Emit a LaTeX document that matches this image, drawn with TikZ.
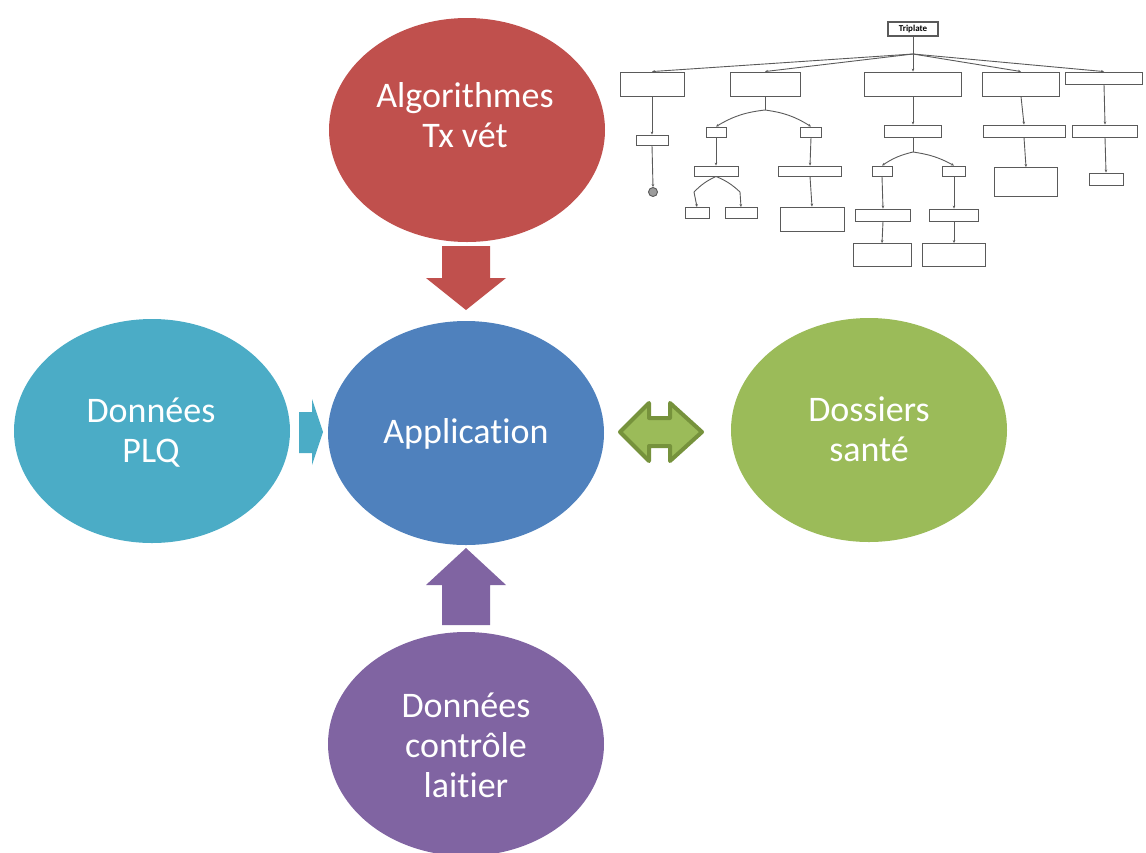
\documentclass[tikz,border=0pt]{standalone}
\usepackage{fontspec}
\setmainfont{Carlito}[Ligatures=NoCommon]
\usetikzlibrary{shapes.geometric,arrows.meta}
\definecolor{cred}{HTML}{C0504D}
\definecolor{cblue}{HTML}{4F81BD}
\definecolor{ccyan}{HTML}{4BACC6}
\definecolor{cgreen}{HTML}{9BBB59}
\definecolor{cgreendark}{HTML}{76923C}
\definecolor{cpurple}{HTML}{8064A2}
\definecolor{treeline}{HTML}{5A5A5A}
\begin{document}
\begin{tikzpicture}[x=1pt,y=-1pt,
  bub/.style={ellipse, inner sep=0pt, draw=none, minimum width=276pt, minimum height=224pt},
  lbl/.style={anchor=base, text=white, inner sep=0pt, font=\fontsize{36}{40}\selectfont},
  tbox/.style={draw=treeline, line width=0.9pt, fill=white, inner sep=0pt, rectangle},
  tl/.style={draw=treeline, line width=0.9pt},
  ta/.style={tl, -{Stealth[length=3pt,width=2.6pt]}},
]
\useasboundingbox (0,0) rectangle (1146,852);

% ---------- tree picture (top right) ----------
\node[tbox, minimum width=50pt, minimum height=14pt, line width=1.2pt, font=\bfseries\fontsize{9}{10}\selectfont] (T) at (913,29) {Triplate};
\coordinate (fan) at (913,54);
\node[tbox, minimum width=64pt, minimum height=24pt] (B1) at (652,84) {};
\node[tbox, minimum width=70pt, minimum height=24pt] (B2) at (765,84) {};
\node[tbox, minimum width=97pt, minimum height=24pt] (B3) at (913,84) {};
\node[tbox, minimum width=77pt, minimum height=24pt] (B4) at (1021,84) {};
\node[tbox, minimum width=77pt, minimum height=12pt] (B5) at (1104,78) {};
\draw[tl] (T.south) -- (fan);
\foreach \b in {B1,B2,B3,B4,B5} \draw[ta] (fan) -- (\b.north);

% branch 1
\node[tbox, minimum width=32pt, minimum height=10pt] (O1) at (652,140) {};
\node[tbox, circle, minimum size=9pt, fill=treeline!60] (C1) at (653,192) {};
\draw[ta] (B1.south) -- (O1.north);
\draw[ta] (O1.south) -- (C1.north);

% branch 2
\coordinate (f2) at (765,110);
\node[tbox, minimum width=20pt, minimum height=10pt] (Y2) at (716,132) {};
\node[tbox, minimum width=21pt, minimum height=10pt] (N2) at (811,132) {};
\node[tbox, minimum width=44pt, minimum height=10pt] (S2) at (716,171) {};
\node[tbox, minimum width=24pt, minimum height=11pt] (Y2a) at (697,213) {};
\node[tbox, minimum width=32pt, minimum height=11pt] (Y2b) at (741,213) {};
\node[tbox, minimum width=63pt, minimum height=10pt] (R2) at (810,171) {};
\node[tbox, minimum width=64pt, minimum height=24pt] (R2b) at (812,219) {};
\coordinate (g2a) at (694,192);
\coordinate (g2b) at (740,192);
\draw[tl] (B2.south) -- (f2);
\draw[ta] (f2) to[bend right=12] (Y2.north);
\draw[ta] (f2) to[bend left=12] (N2.north);
\draw[ta] (Y2.south) -- (S2.north);
\draw[tl] (S2.south) to[bend right=10] (g2a);
\draw[tl] (S2.south) to[bend left=10] (g2b);
\draw[ta] (g2a) -- (Y2a.north);
\draw[ta] (g2b) -- (Y2b.north);
\draw[ta] (N2.south) -- (R2.north);
\draw[ta] (R2.south) -- (R2b.north);

% branch 3
\node[tbox, minimum width=57pt, minimum height=12pt] (U3) at (913,131) {};
\coordinate (f3) at (913,152);
\node[tbox, minimum width=20pt, minimum height=10pt] (Y3) at (882,171) {};
\node[tbox, minimum width=23pt, minimum height=10pt] (N3) at (954,171) {};
\node[tbox, minimum width=55pt, minimum height=12pt] (P3) at (883,215) {};
\node[tbox, minimum width=49pt, minimum height=12pt] (P3b) at (954,215) {};
\node[tbox, minimum width=58pt, minimum height=23pt] (Q3) at (882,255) {};
\node[tbox, minimum width=63pt, minimum height=23pt] (Q3b) at (954,255) {};
\draw[ta] (B3.south) -- (U3.north);
\draw[tl] (U3.south) -- (f3);
\draw[ta] (f3) to[bend right=10] (Y3.north);
\draw[ta] (f3) to[bend left=10] (N3.north);
\draw[ta] (Y3.south) -- (P3.north);
\draw[ta] (N3.south) -- (P3b.north);
\draw[ta] (P3.south) -- (Q3.north);
\draw[ta] (P3b.south) -- (Q3b.north);

% branch 4
\node[tbox, minimum width=82pt, minimum height=12pt] (U4) at (1024,131) {};
\node[tbox, minimum width=63pt, minimum height=29pt] (V4) at (1026,182) {};
\draw[ta] (B4.south) -- (U4.north);
\draw[ta] (U4.south) -- (V4.north);

% branch 5
\node[tbox, minimum width=65pt, minimum height=12pt] (U5) at (1105,131) {};
\node[tbox, minimum width=34pt, minimum height=12pt] (V5) at (1106,179) {};
\draw[ta] (B5.south) -- (U5.north);
\draw[ta] (U5.south) -- (V5.north);

% ---------- ellipses ----------
\node[bub, fill=cred] (algo) at (467,130) {};
\node[bub, fill=cblue] (app) at (466,433) {};
\node[bub, fill=ccyan] (plq) at (152,431) {};
\node[bub, fill=cgreen] (dos) at (869,430) {};
\node[bub, fill=cpurple] (ctl) at (466,744) {};

\node[lbl] (algo1) at (465,107) {Algorithmes};
\node[lbl] (algo2) at (465,147) {Tx vét};
\node[lbl] (app1) at (466,443) {Application};
\node[lbl] (plq1) at (151,422) {Données};
\node[lbl] (plq2) at (151,462) {PLQ};
\node[lbl] (dos1) at (869,421) {Dossiers};
\node[lbl] (dos2) at (869,461) {santé};
\node[lbl] (ctl1) at (466,717) {Données};
\node[lbl] (ctl2) at (466,757) {contrôle};
\node[lbl] (ctl3) at (466,797) {laitier};

% ---------- block arrows ----------
\fill[cred] (442,246) -- (490,246) -- (490,278) -- (506,278) -- (466,310) -- (426,278) -- (442,278) -- cycle;
\fill[cpurple] (442,625) -- (490,625) -- (490,585) -- (506,585) -- (466,548) -- (426,585) -- (442,585) -- cycle;
\fill[ccyan] (299,412) -- (312,412) -- (312,399) -- (323,432) -- (312,465) -- (312,453) -- (299,453) -- cycle;
\filldraw[fill=cgreen, draw=cgreendark, line width=4pt, line join=round]
  (620,432) -- (649,403) -- (649,418) -- (670,418) -- (670,403) -- (702,432)
  -- (670,461) -- (670,446) -- (649,446) -- (649,461) -- cycle;
\end{tikzpicture}
\end{document}
